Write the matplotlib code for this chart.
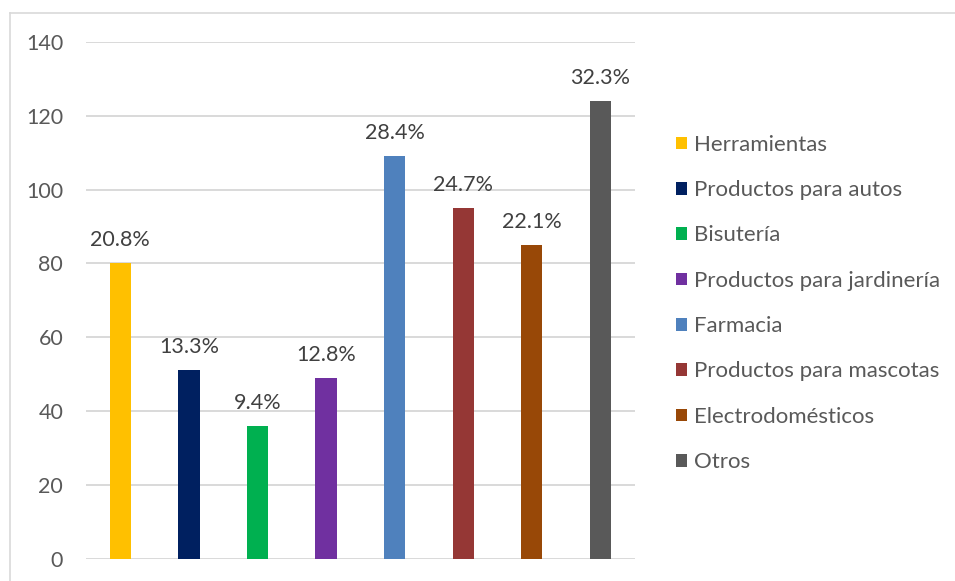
import matplotlib.pyplot as plt
from matplotlib.patches import Patch
from matplotlib.lines import Line2D

# respuestas por categoria (n = 384)
categorias = ['Herramientas', 'Productos para autos', 'Bisutería', 'Productos para jardinería',
              'Farmacia', 'Productos para mascotas', 'Electrodomésticos', 'Otros']
valores = [80, 51, 36, 49, 109, 95, 85, 124]
porcentajes = ['20.8%', '13.3%', '9.4%', '12.8%', '28.4%', '24.7%', '22.1%', '32.3%']
colores = ['#FFC000', '#002060', '#00B050', '#7030A0', '#4F81BD', '#953735', '#984807', '#595959']
y_ticks = [0, 20, 40, 60, 80, 100, 120, 140]

plt.rcParams['font.family'] = ['Lato', 'DejaVu Sans']
fs = 15.5

fig = plt.figure(figsize=(9.55, 5.81), dpi=100)
ax = fig.add_axes([0.0901, 0.0384, 0.5745, 0.8893])

x = list(range(len(valores)))
bars = ax.bar(x, valores, width=0.31, color=colores, zorder=3)

for b, p in zip(bars, porcentajes):
    ax.text(b.get_x() + b.get_width() / 2, b.get_height() + 6.3, p,
            ha='center', va='center', fontsize=fs, color='#404040')

ax.set_xlim(-0.5, len(valores) - 0.5)
ax.set_ylim(0, 140)
ax.set_yticks(y_ticks)
ax.set_xticks([])
ax.tick_params(axis='y', length=0, pad=16.5, labelsize=fs, labelcolor='#595959')
ax.yaxis.grid(True, color='#D9D9D9', linewidth=1.4, zorder=0)
for s in ax.spines.values():
    s.set_visible(False)

handles = [Patch(facecolor=c, edgecolor='none') for c in colores]
leg = fig.legend(handles, categorias, loc='upper left', bbox_to_anchor=(0.708, 0.768),
                 frameon=False, fontsize=16, labelspacing=1.14, handlelength=0.5,
                 handleheight=0.5, handletextpad=0.3, borderaxespad=0, borderpad=0)
for t in leg.get_texts():
    t.set_color('#595959')

# borde del area del grafico
fig.add_artist(Line2D([9.5 / 955, 9.5 / 955], [0, 1 - 12.5 / 581], color='#D9D9D9', lw=1.2))
fig.add_artist(Line2D([9.5 / 955, 1], [1 - 12.5 / 581, 1 - 12.5 / 581], color='#D9D9D9', lw=1.2))

fig.savefig('out.png', dpi=100)
